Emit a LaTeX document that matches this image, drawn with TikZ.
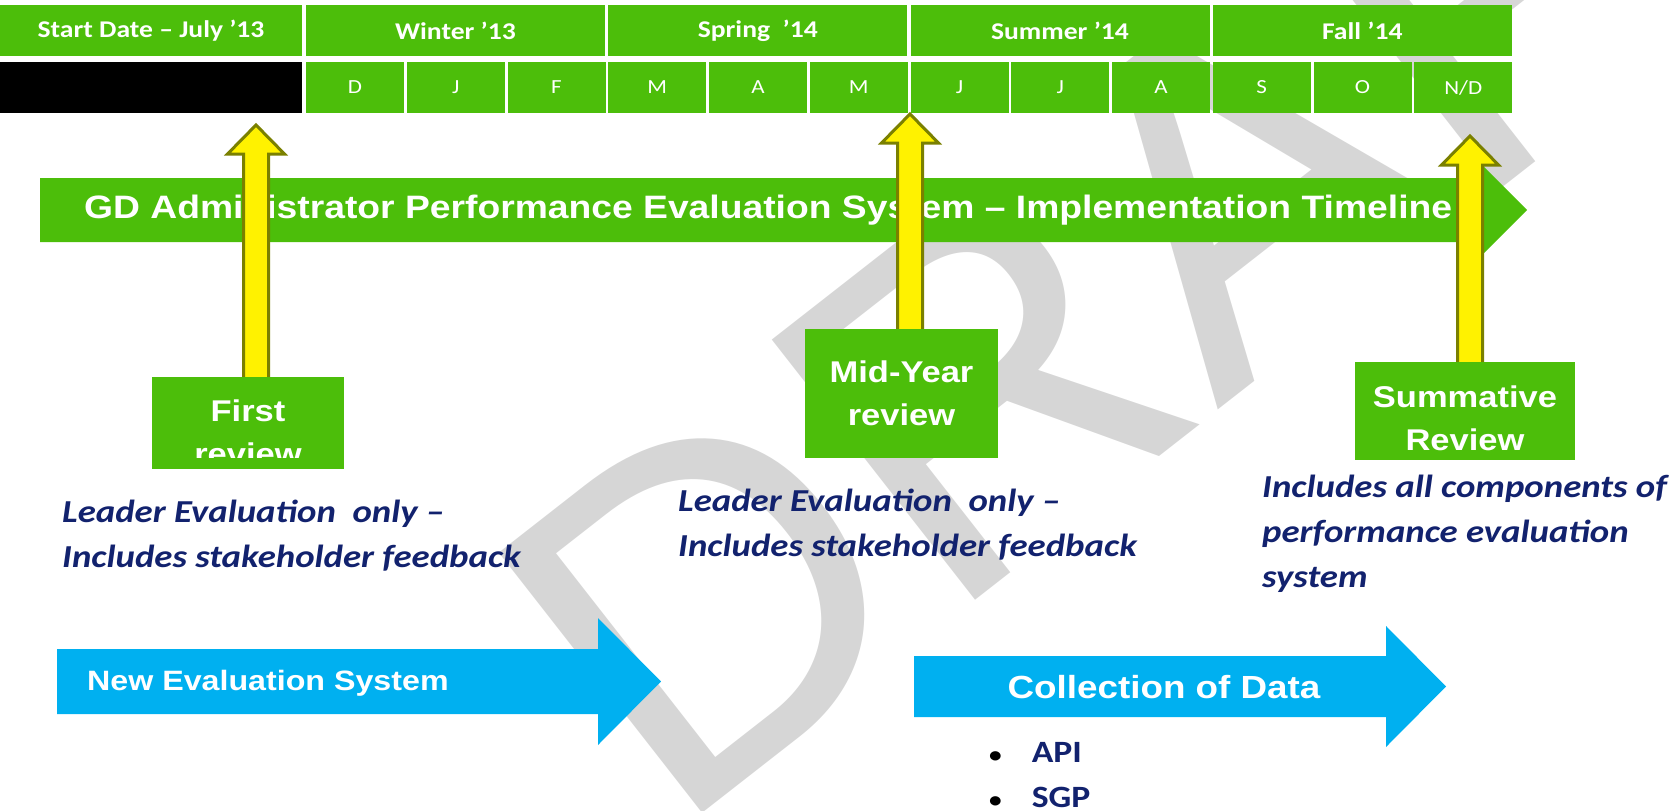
\documentclass[tikz,border=0pt]{standalone}
\usepackage{fontspec}
\setmainfont{Liberation Sans}[FakeStretch=1.15]
\newfontfamily\calfont{Carlito}[FakeStretch=1.15]
\newfontfamily\wmfont{Liberation Sans}
\usetikzlibrary{calc}

\definecolor{tgreen}{RGB}{76,190,10}
\definecolor{tblue}{RGB}{0,176,240}
\definecolor{tnavy}{RGB}{18,34,110}
\definecolor{tolive}{RGB}{122,128,0}

\tikzset{
  season/.style={fill=tgreen, text=white, minimum width=299pt, minimum height=51pt,
    inner sep=0pt, font=\calfont\bfseries\fontsize{24}{24}\selectfont},
  month/.style={fill=tgreen, text=white, minimum width=98pt, minimum height=51pt,
    inner sep=0pt, font=\calfont\fontsize{20}{20}\selectfont},
  reviewbox/.style={fill=tgreen, inner sep=0pt},
  review/.style={text=white, inner sep=0pt, align=center,
    font=\bfseries\fontsize{30}{43}\selectfont},
  note/.style={text=tnavy, anchor=north west, inner sep=0pt, align=left,
    font=\calfont\bfseries\itshape\fontsize{32}{45}\selectfont},
  yarrow/.style={fill=yellow, draw=tolive, line width=3pt, line join=miter},
}

% yellow block arrow from a review box up to a tip
\newcommand\yarrowup[2]{%
  \filldraw[yarrow] let \p1=(#1.north), \p2=(#2) in
    (\x2-12.5pt,\y1) -- (\x2-12.5pt,\y2-29pt) -- (\x2-28.5pt,\y2-29pt) -- (\x2,\y2)
    -- (\x2+28.5pt,\y2-29pt) -- (\x2+12.5pt,\y2-29pt) -- (\x2+12.5pt,\y1);
}

\begin{document}
\begin{tikzpicture}[x=1pt, y=-1pt]
  \useasboundingbox (0,0) rectangle (1676,811);

  % watermark
  \node[rotate=38, text=black!16, font=\wmfont\fontsize{480}{480}\selectfont, inner sep=0]
    (draft) at (1200,215) {DRAFT};

  % table
  \node[season, minimum width=302pt] (start) at (151,30.5) {Start Date – July ’13};
  \foreach \s [count=\k from 0] in {Winter ’13, Spring\ \ ’14, Summer ’14, Fall ’14}
    \node[season] (season\k) at (455.5+302.25*\k,30.5) {\s};
  \node[fill=black, minimum width=302pt, minimum height=51pt, inner sep=0pt] (blank) at (151,87.5) {};
  \foreach \m [count=\i from 0] in {D,J,F,M,A,M,J,J,A,S,O,N/D}
    \node[month] (month\i) at (355+100.75*\i,87.5) {\m};

  % timeline bar
  \fill[tgreen] (40,178) -- (1481,178) -- (1481,164) -- (1527,210) -- (1481,256)
    -- (1481,242) -- (40,242) -- cycle;
  \node[anchor=west, text=white, inner sep=0pt, font=\bfseries\fontsize{32.4}{32.4}\selectfont]
    (title) at (84,210) {GD Administrator Performance Evaluation System – Implementation Timeline};

  % review boxes
  \node[reviewbox, minimum width=192pt, minimum height=92pt] (first) at (248,423) {};
  \begin{scope}
    \clip (first.north west) rectangle ($(first.south east)+(0,-12)$);
    \node[review] (firsttext) at (248,432.5) {First\\review};
  \end{scope}
  \node[reviewbox, minimum width=193pt, minimum height=129pt] (midyear) at (901.5,393.5) {};
  \node[review] (midtext) at (midyear) {Mid-Year\\review};
  \node[reviewbox, minimum width=220pt, minimum height=98pt] (summative) at (1465,411) {};
  \node[review] (sumtext) at (1465,418) {Summative\\Review};

  \coordinate (tip1) at (256,125);
  \coordinate (tip2) at (910,114);
  \coordinate (tip3) at (1470,136);
  \yarrowup{first}{tip1}
  \yarrowup{midyear}{tip2}
  \yarrowup{summative}{tip3}

  % notes
  \node[note] (note1) at (62,500) {Leader Evaluation\ \ only –\\Includes stakeholder feedback};
  \node[note] (note2) at (678,489) {Leader Evaluation\ \ only –\\Includes stakeholder feedback};
  \node[note] (note3) at (1262,475) {Includes all components of\\performance evaluation\\system};

  % blue arrows
  \fill[tblue] (57,649) -- (598,649) -- (598,618) -- (661,681.5) -- (598,745)
    -- (598,714) -- (57,714) -- cycle;
  \node[anchor=west, text=white, inner sep=0pt, font=\bfseries\fontsize{28}{28}\selectfont]
    (newsys) at (87,683) {New Evaluation System};
  \fill[tblue] (914,656) -- (1386,656) -- (1386,626) -- (1446,686.5) -- (1386,747)
    -- (1386,717) -- (914,717) -- cycle;
  \node[text=white, inner sep=0pt, font=\bfseries\fontsize{32}{32}\selectfont]
    (collect) at (1164,687) {Collection of Data};
  \node[note, font=\calfont\bfseries\fontsize{31}{45}\selectfont] (data) at (989,742)
    {\textcolor{black}{\fontsize{22}{22}\selectfont•}\hspace{30pt}API\\
     \textcolor{black}{\fontsize{22}{22}\selectfont•}\hspace{30pt}SGP};
\end{tikzpicture}
\end{document}
